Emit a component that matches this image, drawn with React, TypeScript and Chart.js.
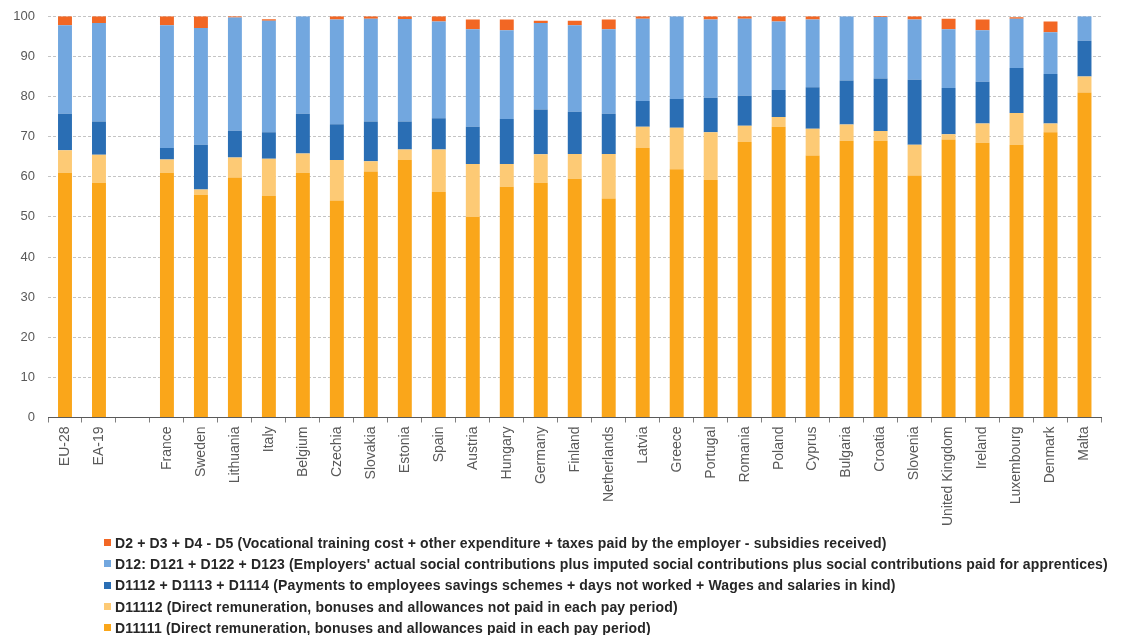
import React, { useEffect, useRef } from "react";
import { Chart, registerables } from "chart.js";

Chart.register(...registerables);

// Country / aggregate labels (third slot is an intentional gap)
const categories: string[] = [
  "EU-28", "EA-19", "", "France", "Sweden", "Lithuania", "Italy", "Belgium",
  "Czechia", "Slovakia", "Estonia", "Spain", "Austria", "Hungary", "Germany",
  "Finland", "Netherlands", "Latvia", "Greece", "Portugal", "Romania", "Poland",
  "Cyprus", "Bulgaria", "Croatia", "Slovenia", "United Kingdom", "Ireland",
  "Luxembourg", "Denmark", "Malta",
];

// D11111: direct remuneration paid in each pay period (%)
const d11111: (number | null)[] = [
  61.0, 58.5, null, 61.0, 55.5, 59.8, 55.2, 61.0, 54.1, 61.3, 64.2, 56.2, 50.0,
  57.5, 58.5, 59.5, 54.6, 67.2, 61.9, 59.2, 68.7, 72.5, 65.3, 69.0, 69.0, 60.3,
  69.3, 68.5, 68.0, 71.1, 81.0,
];

// D11112: direct remuneration not paid in each pay period (%)
const d11112: (number | null)[] = [
  5.6, 7.0, null, 3.3, 1.3, 5.0, 9.3, 4.8, 10.1, 2.6, 2.6, 10.6, 13.2,
  5.7, 7.1, 6.2, 11.1, 5.3, 10.3, 11.9, 4.0, 2.4, 6.7, 4.0, 2.4, 7.7,
  1.3, 4.8, 7.9, 2.2, 4.0,
];

// D1112 + D1113 + D1114 (%)
const d1112: (number | null)[] = [
  9.1, 8.3, null, 2.9, 11.2, 6.7, 6.6, 9.9, 8.9, 9.9, 7.0, 7.8, 9.3,
  11.2, 11.2, 10.5, 10.0, 6.4, 7.2, 8.6, 7.5, 6.7, 10.3, 11.0, 13.1, 16.2,
  11.5, 10.4, 11.2, 12.3, 8.9,
];

// D12: employers' social contributions (%)
const d12: (number | null)[] = [
  22.1, 24.5, null, 30.6, 29.1, 28.2, 27.8, 24.3, 26.1, 25.6, 25.5, 24.1, 24.3,
  22.1, 21.5, 21.6, 21.1, 20.5, 20.6, 19.5, 19.2, 17.1, 16.9, 16.0, 15.3, 15.0,
  14.7, 12.8, 12.3, 10.4, 6.1,
];

// D2 + D3 + D4 - D5 (%)
const d2: (number | null)[] = [
  2.2, 1.7, null, 2.2, 2.9, 0.3, 0.35, 0, 0.8, 0.6, 0.7, 1.3, 2.4,
  2.7, 0.6, 1.1, 2.4, 0.6, 0, 0.8, 0.6, 1.3, 0.8, 0, 0.25, 0.8,
  2.6, 2.7, 0.35, 2.7, 0,
];

const yTicks: number[] = [0, 10, 20, 30, 40, 50, 60, 70, 80, 90, 100];

const seriesNames: string[] = [
  "D11111 (Direct remuneration, bonuses and allowances paid in each pay period)",
  "D11112 (Direct remuneration, bonuses and allowances not paid in each pay period)",
  "D1112 + D1113 + D1114 (Payments to employees savings schemes + days not worked + Wages and salaries in kind)",
  "D12: D121 + D122 + D123 (Employers' actual social contributions plus imputed social contributions plus social contributions paid for apprentices)",
  "D2 + D3 + D4 - D5 (Vocational training cost + other expenditure + taxes paid by the employer - subsidies received)",
];

const seriesColors: string[] = ["#FAA61A", "#FDCA75", "#2A6EB4", "#72A7DF", "#F26724"];

const seriesValues = [d11111, d11112, d1112, d12, d2];

const FONT = "'Liberation Sans', Arial, sans-serif";

export default function App() {
  const canvasRef = useRef<HTMLCanvasElement | null>(null);

  useEffect(() => {
    if (!canvasRef.current) return;
    Chart.defaults.font.family = FONT;
    const chart = new Chart(canvasRef.current, {
      type: "bar",
      data: {
        labels: categories,
        datasets: seriesValues.map((values, i) => ({
          label: seriesNames[i],
          data: values,
          backgroundColor: seriesColors[i],
          borderWidth: 0,
          barPercentage: 0.41,
          categoryPercentage: 1,
        })),
      },
      options: {
        animation: false,
        responsive: true,
        maintainAspectRatio: false,
        layout: { padding: { top: 16.3, right: 29.5, left: 0, bottom: 0 } },
        plugins: {
          legend: { display: false },
          tooltip: { enabled: false },
        },
        scales: {
          x: {
            stacked: true,
            grid: {
              offset: true,
              drawOnChartArea: false,
              drawTicks: true,
              tickLength: 5,
              color: "#7f7f7f",
            },
            border: { display: true, color: "#595959", width: 1 },
            ticks: {
              autoSkip: false,
              maxRotation: 90,
              minRotation: 90,
              padding: 4,
              color: "#595959",
              font: { size: 14, family: FONT },
            },
            afterFit: (scale: any) => {
              scale.height = 122.5;
            },
          },
          y: {
            stacked: true,
            min: 0,
            max: 100,
            afterBuildTicks: (scale: any) => {
              scale.ticks = yTicks.map((v) => ({ value: v }));
            },
            grid: {
              drawTicks: false,
              color: "#c4c4c4",
              lineWidth: 1,
            },
            border: { display: false, dash: [3, 2] },
            ticks: {
              padding: 13,
              color: "#595959",
              font: { size: 13, family: FONT },
            },
            afterFit: (scale: any) => {
              scale.width = 48;
              scale.paddingTop = 0;
              scale.paddingBottom = 0;
            },
          },
        },
      },
    });
    return () => chart.destroy();
  }, []);

  const legendOrder = [4, 3, 2, 1, 0];

  return (
    <div
      style={{
        position: "fixed",
        left: 0,
        top: 0,
        width: 1131,
        height: 635,
        background: "#ffffff",
        overflow: "hidden",
      }}
    >
      <div style={{ position: "absolute", left: 0, top: 0, width: 1131, height: 540 }}>
        <canvas ref={canvasRef} />
      </div>
      <div
        style={{
          position: "absolute",
          left: 104,
          top: 532,
          fontFamily: FONT,
          fontSize: 14,
          fontWeight: "bold",
          letterSpacing: 0.15,
          color: "#262626",
        }}
      >
        {legendOrder.map((i) => (
          <div
            key={i}
            style={{ display: "flex", alignItems: "center", height: 21.3, whiteSpace: "nowrap" }}
          >
            <span
              style={{
                display: "inline-block",
                width: 7,
                height: 7,
                background: seriesColors[i],
                marginRight: 4,
              }}
            />
            <span>{seriesNames[i]}</span>
          </div>
        ))}
      </div>
    </div>
  );
}
